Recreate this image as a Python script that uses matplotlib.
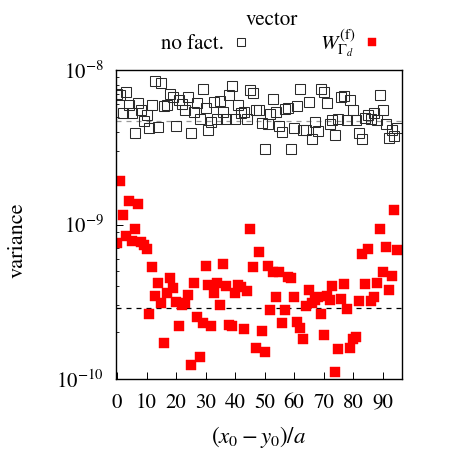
import matplotlib
matplotlib.use('Agg')
import matplotlib.pyplot as plt
from matplotlib.ticker import LogLocator, NullFormatter, MultipleLocator

plt.rcParams['font.family'] = 'STIXGeneral'
plt.rcParams['mathtext.fontset'] = 'stix'

# separation (x0 - y0)/a
sep = list(range(96))

# variance, no factorisation (open squares)
no_fact = [7.0, 6.9, 5.25, 7.2, 5.95, 5.3, 3.9, 6.1, 5.55, 4.7,
           5.15, 4.2, 5.95, 8.5, 4.3, 8.3, 5.85, 5.95, 7.0, 6.7,
           4.35, 6.4, 6.0, 5.5, 6.7, 3.9, 5.35, 6.1, 4.8, 7.5,
           5.65, 4.1, 4.6, 6.25, 4.8, 6.3, 5.35, 4.8, 6.9, 7.9,
           4.85, 5.95, 5.25, 5.35, 4.8, 7.4, 7.1, 5.55, 5.55, 4.55,
           3.1, 4.5, 5.2, 6.55, 5.35, 4.35, 4.0, 5.6, 5.65, 3.1,
           4.2, 5.85, 7.5, 4.1, 4.1, 6.25, 3.6, 4.65, 4.05, 7.5,
           7.2, 6.15, 4.45, 4.75, 3.8, 4.8, 6.7, 6.8, 4.75, 6.45,
           5.55, 4.75, 3.9, 3.6, 4.9, 5.1, 4.85, 5.25, 4.75, 6.9,
           5.55, 4.45, 3.65, 4.1, 3.75, 4.2]
no_fact = [v * 1e-9 for v in no_fact]

# variance with factorised W (filled red squares)
w_fact = [7.55, 19.2, 11.5, 8.4, 14.3, 7.85, 9.35, 13.5, 7.7, 7.4,
          6.9, 2.65, 5.3, 3.45, 4.2, 3.1, 1.7, 3.6, 4.5, 3.9,
          3.15, 2.2, 3.0, 3.1, 3.5, 1.23, 4.2, 2.5, 1.38, 2.3,
          5.4, 4.05, 2.2, 3.6, 4.2, 3.0, 5.55, 4.0, 2.25, 2.2,
          3.6, 4.05, 3.95, 2.1, 3.7, 9.3, 5.3, 1.58, 6.6, 2.05,
          1.5, 5.4, 2.8, 4.9, 3.4, 4.9, 2.3, 2.8, 4.55, 4.5,
          3.4, 2.35, 2.15, 1.8, 2.95, 3.75, 3.1, 3.25, 3.4, 2.65,
          1.93, 3.45, 3.25, 4.0, 1.11, 1.56, 3.3, 4.1, 2.85, 1.58,
          1.8, 1.88, 3.2, 6.45, 4.1, 6.9, 3.2, 3.4, 4.2, 9.4,
          4.9, 7.2, 3.75, 4.65, 12.4, 6.85]
w_fact = [v * 1e-10 for v in w_fact]

# dashed reference levels
no_fact_level = 4.7e-9
w_fact_level = 2.9e-10

fig = plt.figure(figsize=(4.5, 4.5), dpi=100)
ax = fig.add_axes([0.258, 0.158, 0.635, 0.686])

ax.axhline(no_fact_level, color='#999999', lw=0.9, ls=(0, (4, 4)))
ax.axhline(w_fact_level, color='black', lw=0.9, ls=(0, (4, 4)))

ax.plot(sep, no_fact, ls='none', marker='s', ms=7.8, mfc='none',
        mec='#2a2a2a', mew=0.75, label='no fact.')
ax.plot(sep, w_fact, ls='none', marker='s', ms=7, mfc='#ff0000',
        mec='#ff0000', mew=0.3, label=r'$W_{\Gamma_d}^{(\mathrm{f})}$')

ax.set_yscale('log')
ax.set_ylim(1e-10, 1e-8)
ax.set_xlim(-0.3, 96.5)
ax.xaxis.set_major_locator(MultipleLocator(10))
ax.yaxis.set_major_locator(LogLocator(base=10, numticks=5))
ax.yaxis.set_minor_locator(LogLocator(base=10, subs=range(2, 10), numticks=20))
ax.yaxis.set_minor_formatter(NullFormatter())

ax.tick_params(which='both', direction='in', top=False, right=False,
               labelsize=15)
ax.tick_params(which='major', length=5, width=0.7)
ax.tick_params(axis='x', which='major', pad=10)
ax.tick_params(axis='y', which='major', pad=9)
ax.tick_params(which='minor', length=2.5, width=0.6)
for s in ax.spines.values():
    s.set_linewidth(1.0)

ax.set_xlabel(r'$(x_0-y_0)/a$', fontsize=16.5, labelpad=8)
ax.set_ylabel('variance', fontsize=16)
ax.yaxis.set_label_coords(-0.31, 0.45)

leg = ax.legend(loc='lower center', bbox_to_anchor=(0.545, 0.99), ncol=2,
                frameon=False, markerfirst=False, title='vector',
                fontsize=15, title_fontsize=15, markerscale=0.75,
                columnspacing=3.3, handletextpad=0.3, handlelength=1.0,
                borderaxespad=0.3, labelspacing=0.2)
leg._legend_box.sep = -2

fig.savefig('out.png', dpi=100)
